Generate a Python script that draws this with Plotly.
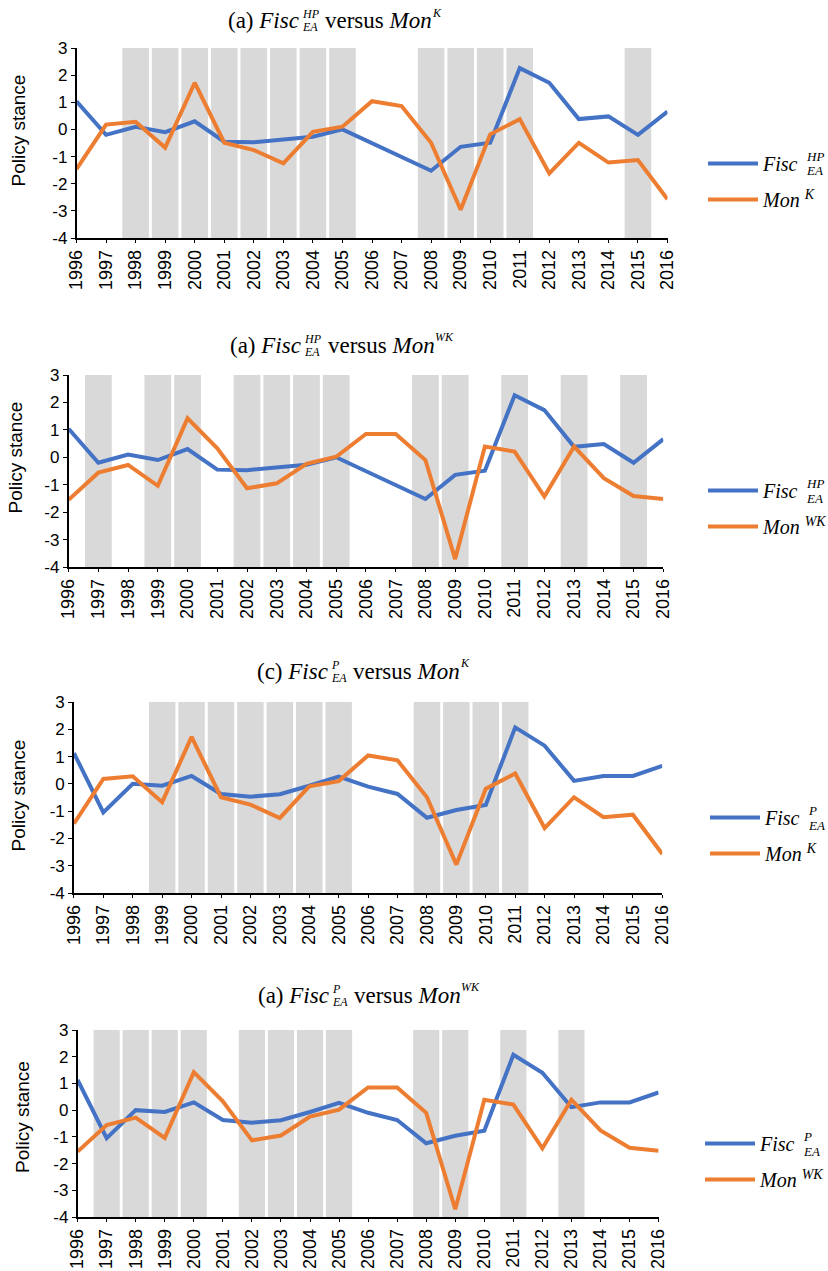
import plotly.graph_objects as go

W, H = 828, 1271

years = list(range(1996, 2017))
fisc_hp = [1.04, -0.2, 0.1, -0.1, 0.3, -0.45, -0.47, -0.38, -0.27, 0.0, -0.5,
           -1.0, -1.52, -0.64, -0.49, 2.26, 1.72, 0.38, 0.48, -0.2, 0.66]
fisc_p = [1.13, -1.05, 0.0, -0.07, 0.29, -0.37, -0.47, -0.38, -0.07, 0.27, -0.1,
          -0.37, -1.24, -0.96, -0.77, 2.07, 1.4, 0.11, 0.29, 0.29, 0.66]
mon_k = [-1.46, 0.18, 0.28, -0.67, 1.72, -0.49, -0.76, -1.25, -0.09, 0.1, 1.04,
         0.86, -0.49, -2.96, -0.18, 0.38, -1.62, -0.49, -1.22, -1.13, -2.57]
mon_wk = [-1.55, -0.56, -0.28, -1.04, 1.42, 0.33, -1.13, -0.95, -0.24, 0.02, 0.85,
          0.85, -0.1, -3.71, 0.39, 0.21, -1.43, 0.39, -0.76, -1.41, -1.52]

shade_1 = [1998, 1999, 2000, 2001, 2002, 2003, 2004, 2005, 2008, 2009, 2010, 2011, 2015]
shade_2 = [1997, 1999, 2000, 2002, 2003, 2004, 2005, 2008, 2009, 2011, 2013, 2015]
shade_3 = [1999, 2000, 2001, 2002, 2003, 2004, 2005, 2008, 2009, 2010, 2011]
shade_4 = [1997, 1998, 1999, 2000, 2002, 2003, 2004, 2005, 2008, 2009, 2011, 2013]

y_ticks = [-4, -3, -2, -1, 0, 1, 2, 3]
y_ticktext = [str(v) for v in y_ticks]
x_ticktext = [str(y) for y in years]

BLUE = "#4472C4"
ORANGE = "#ED7D31"
GREY = "#D9D9D9"
SERIF = "Liberation Serif"
SANS = "Liberation Sans"


def px(x):
    return x / W


def py(y):
    return 1 - y / H


panels = [
    dict(label="a", fisc=fisc_hp, fsup="HP", mon=mon_k, msup="K", shade=shade_1,
         box=(76.5, 667.5, 48, 238), tX=300, tXd=324, tY=21, ytx=18.5, yty=131,
         lt=763, ly=163),
    dict(label="a", fisc=fisc_hp, fsup="HP", mon=mon_wk, msup="WK", shade=shade_2,
         box=(68.6, 663.3, 375, 567), tX=302, tXd=327, tY=345, ytx=14.5, yty=458,
         lt=763, ly=490),
    dict(label="c", fisc=fisc_p, fsup="P", mon=mon_k, msup="K", shade=shade_3,
         box=(73.9, 662.3, 702, 893), tX=329, tXd=352, tY=671, ytx=18.5, yty=796,
         lt=765, ly=817),
    dict(label="a", fisc=fisc_p, fsup="P", mon=mon_wk, msup="WK", shade=shade_4,
         box=(77.6, 658.6, 1030, 1217), tX=330, tXd=353, tY=995, ytx=22, yty=1117,
         lt=760, ly=1143),
]

fig = go.Figure()
annotations = []
layout = {}


def ann(text, x, y, size, xanchor="left", family=SERIF, angle=0):
    annotations.append(dict(
        text=text, x=px(x), y=py(y), xref="paper", yref="paper",
        xanchor=xanchor, yanchor="middle", showarrow=False, borderpad=0,
        textangle=angle, font=dict(family=family, size=size, color="black")))


for i, p in enumerate(panels, start=1):
    sfx = "" if i == 1 else str(i)
    xa, ya = "x" + sfx, "y" + sfx
    leg = "legend" + sfx
    x0, x1, y0, y1 = p["box"]

    fig.add_trace(go.Bar(
        x=p["shade"], y=[y_ticks[-1] - y_ticks[0]] * len(p["shade"]), base=y_ticks[0],
        width=0.9, marker=dict(color=GREY, line=dict(width=0)),
        showlegend=False, hoverinfo="skip", xaxis=xa, yaxis=ya))
    fig.add_trace(go.Scatter(
        x=years, y=p["fisc"], mode="lines", line=dict(color=BLUE, width=4),
        name="<i>Fisc</i>", legend=leg, legendgroup=f"f{i}", xaxis=xa, yaxis=ya))
    fig.add_trace(go.Scatter(
        x=years, y=p["mon"], mode="lines", line=dict(color=ORANGE, width=4),
        name=f"<i>Mon</i> <sup><i>{p['msup']}</i></sup>", legend=leg,
        legendgroup=f"m{i}", xaxis=xa, yaxis=ya))

    layout["xaxis" + sfx] = dict(
        domain=[px(x0), px(x1)], anchor=ya, range=[years[0], years[-1]],
        tickmode="array", tickvals=years, ticktext=x_ticktext, tickangle=-90,
        ticks="outside", ticklen=3, tickwidth=1.2, tickcolor="black",
        showline=True, linecolor="black", linewidth=1.5, showgrid=False,
        zeroline=False, automargin=False,
        tickfont=dict(family=SANS, size=18, color="black"))
    layout["yaxis" + sfx] = dict(
        domain=[py(y1), py(y0)], anchor=xa, range=[y_ticks[0], y_ticks[-1]],
        tickmode="array", tickvals=y_ticks, ticktext=y_ticktext,
        ticks="outside", ticklen=4, tickwidth=1.2, tickcolor="black",
        showline=True, linecolor="black", linewidth=1.5, showgrid=False,
        zeroline=False, automargin=False,
        tickfont=dict(family=SANS, size=17, color="black"))
    layout[leg] = dict(
        x=px(p["lt"] - 60), y=py(p["ly"] - 19), xanchor="left", yanchor="top",
        font=dict(family=SERIF, size=20, color="black"), itemwidth=50,
        tracegroupgap=7, bgcolor="rgba(0,0,0,0)", traceorder="grouped")

    # panel title
    ann(f"({p['label']}) <i>Fisc</i>", p["tX"], p["tY"], 23, xanchor="right")
    ann(f"<i>{p['fsup']}</i>", p["tX"] + 1, p["tY"] - 6.5, 12)
    ann("<i>EA</i>", p["tX"] + 1, p["tY"] + 6.5, 12)
    ann("versus <i>Mon</i>", p["tXd"], p["tY"], 23)
    ann(f"<i>{p['msup']}</i>", p["tXd"] + 107, p["tY"] - 8.5, 12)

    # y axis title
    ann("Policy stance", p["ytx"], p["yty"], 19, xanchor="center", family=SANS, angle=-90)

    # stacked super/subscript for Fisc in legend
    ann(f"<i>{p['fsup']}</i>", p["lt"] + 42, p["ly"] - 6.5, 13)
    ann("<i>EA</i>", p["lt"] + 42, p["ly"] + 8, 13)

fig.update_layout(
    template="none",
    width=W, height=H, margin=dict(l=0, r=0, t=0, b=0, autoexpand=False),
    paper_bgcolor="white", plot_bgcolor="white", barmode="overlay",
    annotations=annotations, **layout)

fig.write_html(
    "out.html",
    config={"displayModeBar": False},
    post_script="document.body.style.margin='0';document.body.style.overflow='hidden';")
